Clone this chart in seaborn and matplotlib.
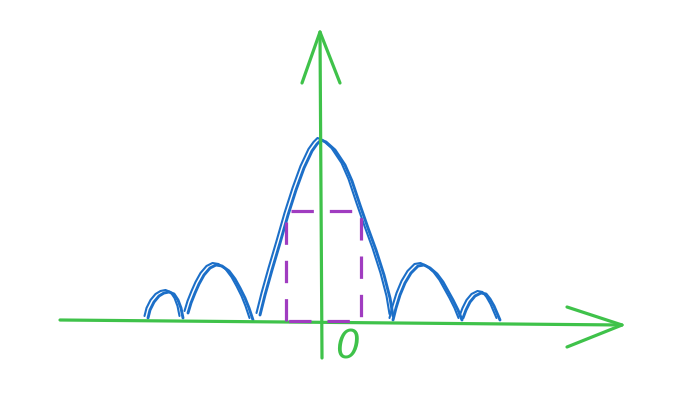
import numpy as np
import pandas as pd
import matplotlib
matplotlib.use("Agg")
import matplotlib.pyplot as plt
import seaborn as sns

# sketch of |sinc| lobes, x = offset from origin, y = height above axis (px units)
lobe_a_x = [-172, -170, -166, -161, -156, -151, -146, -142, -139, -137]
lobe_a_y = [3, 11, 19, 25, 28, 29, 27, 21, 13, 3]
lobe_b_x = [-132, -129, -125, -121, -116, -110, -104, -98, -91, -85, -80, -75, -71, -67]
lobe_b_y = [8, 18, 28, 37, 46, 53, 56, 55, 50, 42, 33, 23, 13, 1]
main_x = [-60, -55, -48, -40, -32, -24, -16, -8, -3, 1, 6, 15, 25, 32, 40, 48, 56, 64, 70, 73]
main_y = [6, 26, 51, 78, 106, 131, 153, 170, 177, 181, 179, 171, 156, 140, 116, 93, 71, 46, 23, 5]
lobe_c_x = [73, 76, 80, 85, 91, 98, 104, 110, 117, 123, 128, 133, 138, 142]
lobe_c_y = [1, 13, 26, 38, 48, 55, 56, 53, 47, 39, 30, 21, 11, 1]
lobe_d_x = [143, 146, 150, 155, 161, 166, 170, 174, 177, 180]
lobe_d_y = [3, 11, 19, 25, 28, 27, 22, 15, 8, 1]

# axes sketch
h_axis_x = [-260, 302]
h_axis_y = [1, -4]
h_arrow_x = [247, 302, 247]
h_arrow_y = [14, -4, -26]
v_axis_x = [2, 0]
v_axis_y = [-37, 289]
v_arrow_x = [-18, 0, 20]
v_arrow_y = [238, 289, 238]

# dashed box
box_x = [-34, -34, 41, 41, -34]
box_y = [0, 110, 110, 0, 0]

blue = "#1c6fc8"
green = "#3fc24a"
purple = "#a03cc0"

fig = plt.figure(figsize=(6.74, 4.11), dpi=100)
ax = fig.add_axes([0, 0, 1, 1])
ax.set_xlim(-320, 354)
ax.set_ylim(-90, 321)
ax.axis("off")

round_kw = dict(solid_capstyle="round", solid_joinstyle="round")

lobes = [(lobe_a_x, lobe_a_y), (lobe_b_x, lobe_b_y), (main_x, main_y),
         (lobe_c_x, lobe_c_y), (lobe_d_x, lobe_d_y)]
for lx, ly in lobes:
    sns.lineplot(x=lx, y=ly, sort=False, estimator=None, color=blue, lw=2.1,
                 ax=ax, **round_kw)
    # second pencil stroke, slightly offset
    sns.lineplot(x=np.array(lx) - 3.5, y=np.array(ly) + 2, sort=False,
                 estimator=None, color=blue, lw=1.5, ax=ax, **round_kw)

for px, py in [(h_axis_x, h_axis_y), (h_arrow_x, h_arrow_y),
               (v_axis_x, v_axis_y), (v_arrow_x, v_arrow_y)]:
    sns.lineplot(x=px, y=py, sort=False, estimator=None, color=green, lw=2.3,
                 ax=ax, **round_kw)

sns.lineplot(x=box_x, y=box_y, sort=False, estimator=None, color=purple,
             lw=2.3, ax=ax, dashes=False, linestyle=(0, (7, 5)))

ax.text(27, -26, "0", color=green, fontsize=28, ha="center", va="center",
        style="italic", family="DejaVu Sans")

fig.savefig("out.png", dpi=100, facecolor="white")
